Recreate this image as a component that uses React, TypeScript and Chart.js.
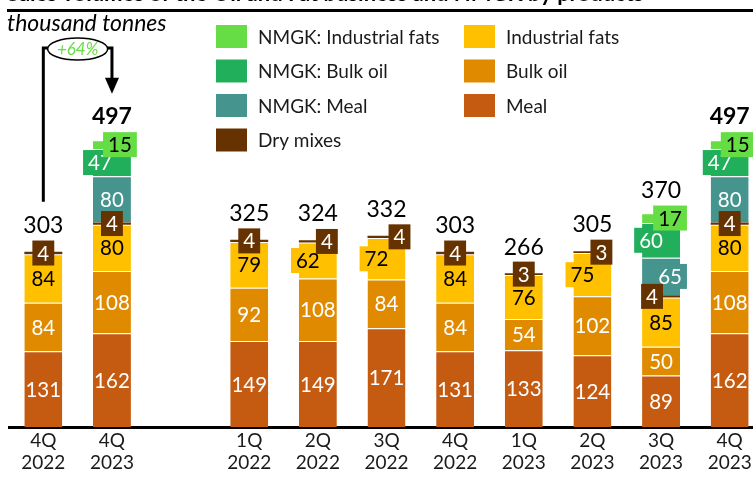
import React, { useEffect, useRef } from 'react';
import { Chart, registerables } from 'chart.js';

Chart.register(...registerables);

// ---------- data ----------
const categories: (string | string[])[] = [
  ['4Q', '2022'], ['4Q', '2023'], '',
  ['1Q', '2022'], ['2Q', '2022'], ['3Q', '2022'], ['4Q', '2022'],
  ['1Q', '2023'], ['2Q', '2023'], ['3Q', '2023'], ['4Q', '2023'],
];
const meal = [131, 162, null, 149, 149, 171, 131, 133, 124, 89, 162];
const bulkOil = [84, 108, null, 92, 108, 84, 84, 54, 102, 50, 108];
const industrialFats = [84, 80, null, 79, 62, 72, 84, 76, 75, 85, 80];
const dryMixes = [4, 4, null, 4, 4, 4, 4, 3, 3, 4, 4];
const nmgkMeal = [null, 80, null, null, null, null, null, null, null, 65, 80];
const nmgkBulkOil = [null, 47, null, null, null, null, null, null, null, 60, 47];
const nmgkIndustrialFats = [null, 15, null, null, null, null, null, null, null, 17, 15];
const totals = [303, 497, null, 325, 324, 332, 303, 266, 305, 370, 497];
const growthLabel = '+64%';
const unitLabel = 'thousand tonnes';
const titleText = 'Sales volumes of the Oil and Fat business and NMGK by products';

// ---------- styles ----------
const FONT = 'Lato, "Noto Sans", sans-serif';
const C = {
  meal: '#C55A11',
  bulkOil: '#E08A00',
  indFats: '#FFC000',
  dry: '#663300',
  nMeal: '#45948E',
  nBulk: '#21AF5B',
  nInd: '#66DD44',
};

// label horizontal shifts (px) per dataset index -> category index
const labelShift: Record<number, Record<number, number>> = {
  2: { 4: -10, 5: -10, 8: -10 },
  3: { 4: 9, 5: 13, 8: 9, 9: -9 },
  4: { 9: 9 },
  5: { 1: -12, 9: -10, 10: -10 },
  6: { 1: 8, 9: 9, 10: 8 },
};
const labelTextColor = ['#fff', '#fff', '#000', '#fff', '#fff', '#fff', '#000'];
const boldTotals = [1, 10];

const legendCols = [
  ['NMGK: Industrial fats', 'NMGK: Bulk oil', 'NMGK: Meal', 'Dry mixes'],
  ['Industrial fats', 'Bulk oil', 'Meal'],
];

const labelsPlugin = {
  id: 'segLabels',
  afterDatasetsDraw(chart: any) {
    const ctx = chart.ctx;
    ctx.save();
    const order = [0, 1, 2, 4, 5, 6, 3];
    order.forEach((di) => {
      const ds = chart.data.datasets[di];
      const meta = chart.getDatasetMeta(di);
      meta.data.forEach((el: any, i: number) => {
        const v = ds.data[i];
        if (v == null) return;
        const shift = (labelShift[di] && labelShift[di][i]) || 0;
        const x = el.x + shift;
        const y = (el.y + el.base) / 2;
        const text = String(v);
        ctx.font = `20.5px ${FONT}`;
        if (di === 3 || shift !== 0) {
          const w = ctx.measureText(text).width + 10;
          ctx.fillStyle = ds.backgroundColor;
          ctx.fillRect(x - w / 2, y - 12.5, w, 25);
        }
        ctx.fillStyle = labelTextColor[di];
        ctx.textAlign = 'center';
        ctx.textBaseline = 'middle';
        ctx.fillText(text, x, y + 1);
      });
    });
    // totals
    const xs = chart.scales.x;
    const ys = chart.scales.y;
    totals.forEach((t, i) => {
      if (t == null) return;
      const hasN = nmgkMeal[i] != null;
      const x = xs.getPixelForValue(i);
      const y = ys.getPixelForValue(t) - (hasN ? 23 : 26);
      const bold = boldTotals.includes(i);
      ctx.font = `${bold ? 'bold ' : ''}23px ${FONT}`;
      ctx.fillStyle = '#000';
      ctx.textAlign = 'center';
      ctx.textBaseline = 'middle';
      ctx.fillText(String(t), x, y);
    });
    ctx.restore();
  },
};

const decorPlugin = {
  id: 'decor',
  afterDraw(chart: any) {
    const ctx = chart.ctx;
    ctx.save();
    // title (cut off at top)
    ctx.font = `bold 22px ${FONT}`;
    ctx.fillStyle = '#000';
    ctx.textAlign = 'left';
    ctx.textBaseline = 'alphabetic';
    ctx.fillText(titleText, 7, 0.5, 643);
    // rule
    ctx.fillStyle = '#000';
    ctx.fillRect(7, 9, 760, 3);
    // unit
    ctx.font = `italic 23px ${FONT}`;
    ctx.fillText(unitLabel, 7, 31);

    // legend
    const colX = [216, 464];
    const rowY = [36.5, 71, 105.5, 140];
    legendCols.forEach((col, ci) => {
      col.forEach((name, ri) => {
        const ds = chart.data.datasets.find((d: any) => d.label === name);
        const cx = colX[ci];
        const cy = rowY[ri];
        ctx.fillStyle = ds.backgroundColor;
        ctx.fillRect(cx, cy - 11.5, 31, 23);
        ctx.fillStyle = '#1a1a1a';
        ctx.font = `19px ${FONT}`;
        ctx.textBaseline = 'middle';
        ctx.textAlign = 'left';
        ctx.fillText(name, cx + 42, cy + 1);
      });
    });

    // growth annotation
    const xs = chart.scales.x;
    const ys = chart.scales.y;
    const x0 = xs.getPixelForValue(0);
    const x1 = xs.getPixelForValue(1);
    const yTop = 48;
    const yLeftBottom = ys.getPixelForValue(totals[0]) - 50;
    const yTip = ys.getPixelForValue(totals[1]) - 46;
    const ex = (x0 + x1) / 2;
    const rx = 30;
    const ry = 11;
    ctx.strokeStyle = '#000';
    ctx.lineWidth = 3;
    ctx.beginPath();
    ctx.moveTo(x0, yLeftBottom);
    ctx.lineTo(x0, yTop);
    ctx.lineTo(ex - rx, yTop);
    ctx.moveTo(ex + rx, yTop);
    ctx.lineTo(x1, yTop);
    ctx.lineTo(x1, yTip - 14);
    ctx.stroke();
    ctx.fillStyle = '#000';
    ctx.beginPath();
    ctx.moveTo(x1 - 7, yTip - 16);
    ctx.lineTo(x1 + 7, yTip - 16);
    ctx.lineTo(x1, yTip);
    ctx.closePath();
    ctx.fill();
    ctx.beginPath();
    ctx.ellipse(ex, yTop + 1, rx, ry, 0, 0, Math.PI * 2);
    ctx.fillStyle = '#fff';
    ctx.fill();
    ctx.lineWidth = 1.5;
    ctx.stroke();
    ctx.fillStyle = C.nInd;
    ctx.font = `italic 17px ${FONT}`;
    ctx.textAlign = 'center';
    ctx.textBaseline = 'middle';
    ctx.fillText(growthLabel, ex, yTop + 2);
    ctx.restore();
  },
};

export default function App() {
  const ref = useRef<HTMLCanvasElement>(null);
  useEffect(() => {
    if (!ref.current) return;
    const seg = { top: 1, left: 0, right: 0, bottom: 0 };
    const mk = (label: string, data: (number | null)[], color: string, bw: any = seg) => ({
      label,
      data,
      backgroundColor: color,
      borderColor: 'rgba(255,255,255,0.45)',
      borderWidth: bw,
      borderSkipped: false,
    });
    const chart = new Chart(ref.current, {
      type: 'bar',
      data: {
        labels: categories as any,
        datasets: [
          mk('Meal', meal, C.meal),
          mk('Bulk oil', bulkOil, C.bulkOil),
          mk('Industrial fats', industrialFats, C.indFats),
          mk('Dry mixes', dryMixes, C.dry, 0),
          mk('NMGK: Meal', nmgkMeal, C.nMeal),
          mk('NMGK: Bulk oil', nmgkBulkOil, C.nBulk),
          mk('NMGK: Industrial fats', nmgkIndustrialFats, C.nInd),
        ] as any,
      },
      options: {
        animation: false,
        responsive: false,
        devicePixelRatio: 1,
        layout: { padding: { top: 138, left: 9, right: 6, bottom: 4 } },
        datasets: { bar: { categoryPercentage: 1, barPercentage: 0.553 } },
        plugins: { legend: { display: false }, tooltip: { enabled: false }, title: { display: false } },
        scales: {
          x: {
            stacked: true,
            offset: true,
            grid: { display: false, drawTicks: false },
            border: { display: true, color: '#000', width: 3 },
            ticks: {
              color: '#1a1a1a',
              font: { family: FONT, size: 19, lineHeight: '22px' },
              padding: 3,
              maxRotation: 0,
              autoSkip: false,
            },
            afterFit: (s: any) => { s.height = 46; },
          },
          y: { stacked: true, display: false, min: 0, max: 500 },
        },
      } as any,
      plugins: [labelsPlugin, decorPlugin],
    });
    return () => chart.destroy();
  }, []);
  return (
    <div style={{ position: 'fixed', left: 0, top: 0, width: 753, height: 477, overflow: 'hidden', background: '#fff' }}>
      <canvas ref={ref} width={770} height={477} style={{ display: 'block' }} />
    </div>
  );
}
